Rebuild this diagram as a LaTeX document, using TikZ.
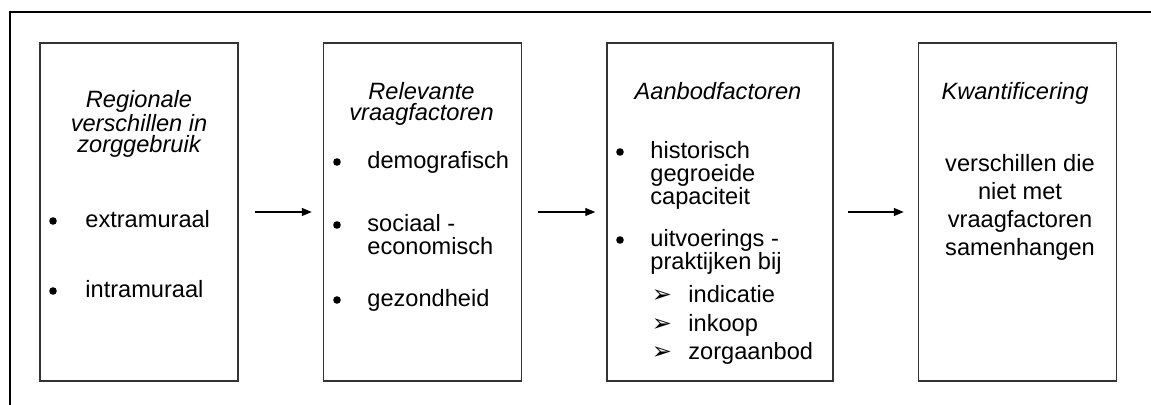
\documentclass[tikz,border=0pt]{standalone}
\usepackage{fontspec}
\setmainfont{Liberation Sans}
\newfontfamily\dingfont{DejaVu Sans}
\usetikzlibrary{arrows.meta,positioning}
\tikzset{>={Triangle[width=4pt,length=5pt]}}
\tikzset{
  stage/.style={draw=black!80, line width=0.75pt, minimum width=99pt,
    minimum height=169pt, inner sep=0pt},
  head/.style={font=\fontsize{11.8}{10.5}\selectfont\itshape, align=center,
    anchor=north, inner sep=0pt},
  item/.style={font=\fontsize{11.8}{11.5}\selectfont, align=left,
    anchor=north west, inner sep=0pt},
  dot/.style={circle, fill, inner sep=0pt, minimum size=3.8pt},
  subarr/.style={font=\dingfont\fontsize{12}{12}\selectfont, inner sep=0pt},
}

\begin{document}
\begin{tikzpicture}[x=0.5pt, y=-0.5pt]
  \useasboundingbox (0,0) rectangle (1151,405);

  % frame
  \draw[line width=1pt] (1160,12) -- (9.5,12) -- (9.5,410);

  % the four stages
  \node[stage] (regio) at (139,212) {};
  \node[stage, right=42pt of regio] (vraag) {};
  \node[stage, right=42pt of vraag, minimum width=113pt] (aanbod) {};
  \node[stage, right=42pt of aanbod] (kwant) {};

  \draw[->, line width=0.6pt, shorten <=8pt, shorten >=5.5pt] (regio) -- (vraag);
  \draw[->, line width=0.6pt, shorten <=8pt, shorten >=5.5pt] (vraag) -- (aanbod);
  \draw[->, line width=0.6pt, shorten <=7pt, shorten >=7pt] (aanbod) -- (kwant);

  % Regionale verschillen
  \node[head] (regioT) at (139,90) {Regionale\\verschillen in\\zorggebruik};
  \node[dot] (regioB1) at (53,221) {};
  \node[item] (extra) at (85,210) {extramuraal};
  \node[dot] (regioB2) at (53,291) {};
  \node[item] (intra) at (85,280) {intramuraal};

  % Relevante vraagfactoren
  \node[head] (vraagT) at (421.5,82) {Relevante\\vraagfactoren};
  \node[dot] (vraagB1) at (337,162) {};
  \node[item] (demo) at (367,151) {demografisch};
  \node[dot] (vraagB2) at (337,225) {};
  \node[item] (soc) at (367,214) {sociaal -\\economisch};
  \node[dot] (vraagB3) at (337,300) {};
  \node[item] (gez) at (367,289) {gezondheid};

  % Aanbodfactoren
  \node[head] (aanbodT) at (718,82) {Aanbodfactoren};
  \node[dot] (aanbodB1) at (620,152) {};
  \node[item] (hist) at (650,141) {historisch\\gegroeide\\capaciteit};
  \node[dot] (aanbodB2) at (620,240) {};
  \node[item] (uitv) at (650,229) {uitvoerings -\\praktijken bij};
  \node[subarr] (subA) at (662,296) {➢};
  \node[item] (ind) at (688,285) {indicatie};
  \node[subarr] (subB) at (662,325) {➢};
  \node[item] (ink) at (688,314) {inkoop};
  \node[subarr] (subC) at (662,353) {➢};
  \node[item] (zorg) at (688,342) {zorgaanbod};

  % Kwantificering
  \node[head] (kwantT) at (1015,82) {Kwantificering};
  \node[font=\fontsize{11.8}{14}\selectfont, align=center, anchor=north,
    inner sep=0pt] (rest) at (1020,154)
    {verschillen die\\niet met\\vraagfactoren\\samenhangen};
\end{tikzpicture}
\end{document}
